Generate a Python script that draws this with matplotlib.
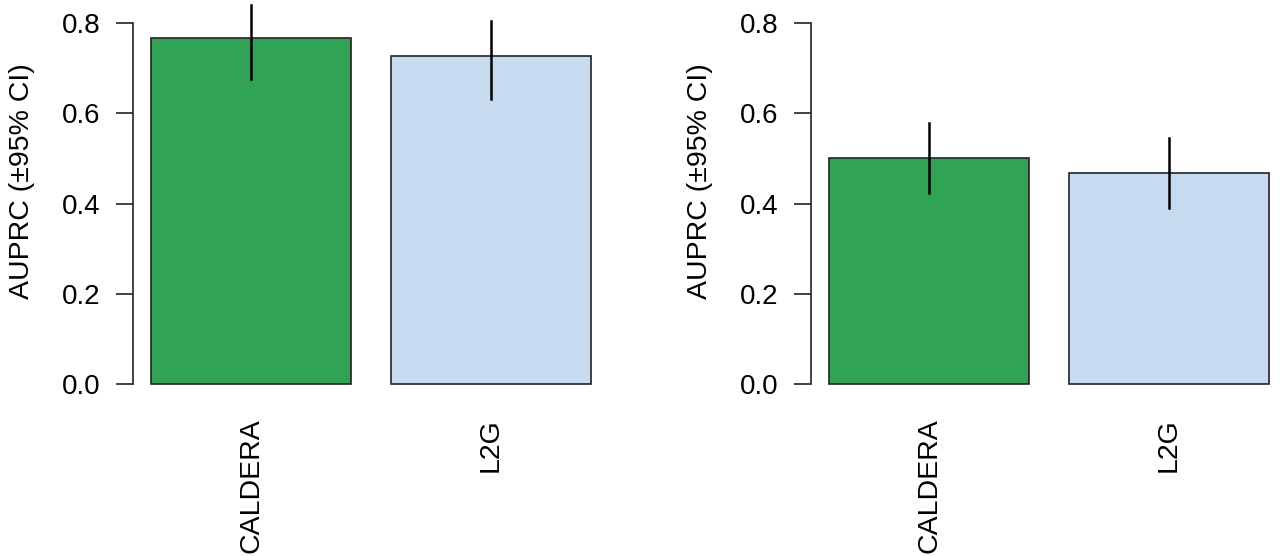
import matplotlib
matplotlib.use("Agg")
import matplotlib.pyplot as plt

plt.rcParams['font.family'] = ['Liberation Sans', 'DejaVu Sans']

categories = ["CALDERA", "L2G"]
colors = ["#31A354", "#C6DBEF"]

left_values = [0.767, 0.728]
left_lower = [0.676, 0.633]
left_upper = [0.840, 0.805]

right_values = [0.501, 0.467]
right_lower = [0.423, 0.390]
right_upper = [0.578, 0.546]

yticks = [0.0, 0.2, 0.4, 0.6, 0.8]
ylabel = "AUPRC (±95% CI)"

W, H = 1280, 556
fig = plt.figure(figsize=(W / 100, H / 100), dpi=100)

x_pos = [0.7, 1.9]
xlim = (0.112, 2.488)
ylim = (-0.035, 0.85)
px_per_unit_x = 200.0
px_per_unit_y = 451.5
y0_px = 384.3  # y pixel (from top) of value 0

def make_axes(left_px):
    x_left = left_px - (x_pos[0] - 0.5 - xlim[0]) * px_per_unit_x
    width = (xlim[1] - xlim[0]) * px_per_unit_x
    bottom_px = y0_px + (0 - ylim[0]) * px_per_unit_y
    height = (ylim[1] - ylim[0]) * px_per_unit_y
    return fig.add_axes([x_left / W, (H - bottom_px) / H, width / W, height / H])

def draw(ax, values, lower, upper):
    ax.bar(x_pos, values, width=1.0, color=colors, edgecolor="#222222", linewidth=1.2, zorder=2)
    for x, lo, hi in zip(x_pos, lower, upper):
        ax.plot([x, x], [lo, hi], color="black", linewidth=1.8, zorder=3, clip_on=False)
    ax.set_xlim(*xlim)
    ax.set_ylim(*ylim)
    for s in ["top", "right", "bottom"]:
        ax.spines[s].set_visible(False)
    ax.spines["left"].set_bounds(0.0, 0.8)
    ax.spines["left"].set_linewidth(1.2)
    ax.spines["left"].set_color("#222222")
    ax.set_yticks(yticks)
    ax.set_yticklabels([f"{t:.1f}" for t in yticks])
    ax.tick_params(axis="y", length=12, width=1.2, color="#222222", pad=12, labelsize=20)
    ax.set_xticks(x_pos)
    ax.set_xticklabels(categories, rotation=90, fontsize=20.5, va="top")
    ax.tick_params(axis="x", length=0, pad=13)
    ax.set_ylabel(ylabel, fontsize=20.5)
    ax.yaxis.set_label_coords(-0.207, (0.45 - ylim[0]) / (ylim[1] - ylim[0]))
    ax.patch.set_visible(False)

ax1 = make_axes(151)
draw(ax1, left_values, left_lower, left_upper)
ax2 = make_axes(829)
draw(ax2, right_values, right_lower, right_upper)

fig.savefig("out.png", dpi=100, facecolor="white")
